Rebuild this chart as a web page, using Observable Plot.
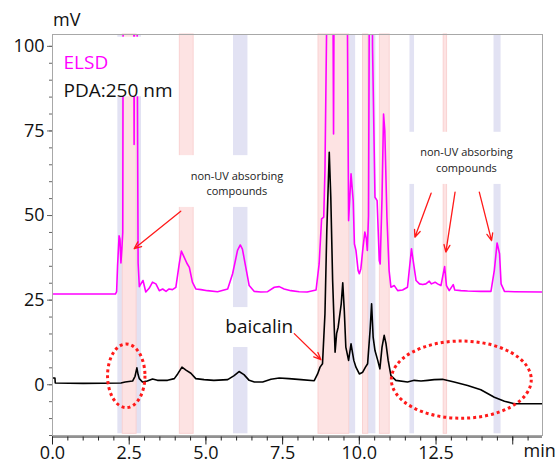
<!DOCTYPE html>
<html><head><meta charset="utf-8">
<script src="https://cdn.jsdelivr.net/npm/d3@7"></script>
<script src="https://cdn.jsdelivr.net/npm/@observablehq/plot@0.6"></script>
<style>body{margin:0;background:#fff} #chart svg{font-family:"Open Sans",sans-serif;}</style>
</head><body><div id="chart"></div>
<script>
// ELSD trace (min, mV) — peaks beyond 103 are off-scale in the original
const elsdTime = [0.00,2.05,2.09,2.12,2.17,2.20,2.23,2.26,2.29,2.31,2.60,2.63,2.66,2.69,2.71,2.79,2.83,2.86,2.95,3.04,3.15,3.26,3.37,3.48,3.59,3.70,3.80,3.91,4.02,4.13,4.20,4.29,4.38,4.46,4.56,4.67,4.84,5.05,5.38,5.71,5.87,6.03,6.12,6.19,6.30,6.41,6.57,6.79,7.01,7.23,7.39,7.55,7.77,8.04,8.30,8.59,8.69,8.77,8.84,8.88,8.94,8.97,9.10,9.16,9.21,9.55,9.65,9.73,9.80,9.84,9.89,9.96,10.00,10.05,10.12,10.18,10.23,10.26,10.30,10.36,10.40,10.43,10.51,10.58,10.65,10.68,10.74,10.79,10.83,10.90,10.97,11.03,11.14,11.25,11.41,11.57,11.70,11.77,11.85,11.96,12.07,12.17,12.28,12.35,12.47,12.55,12.66,12.78,12.84,12.93,13.06,13.11,13.31,13.53,13.96,14.29,14.40,14.49,14.57,14.62,14.73,15.06,15.97];
const elsdMV   = [26.8,26.8,27.5,35,44,43,36,40,45,150,200,200,71,200,220,36,29,29.5,30.8,27.4,28.5,30.3,29.8,27.8,28.3,27.6,28.3,28.1,28.8,35.7,39.5,37.7,35.9,34.7,30.3,28.3,28.1,27.8,27.5,28.3,32.8,39.7,41.3,40.1,34.7,29.3,27.6,27.4,27.5,28.8,29.0,28.3,27.8,27.5,27.4,28.0,35.7,49.0,49.5,63.3,110,200,200,74.1,200,200,48.5,62.3,54.4,41.6,39.7,33.8,32.8,34.3,40.6,45.1,43.1,39.7,50,200,200,100,55.4,54.4,36.7,35.7,55.4,80.0,75.1,49.5,33.8,28.8,29.3,27.8,28.0,28.8,40.2,35.7,30.8,29.8,29.6,29.8,30.6,29.8,30.3,29.8,29.3,34.9,29.3,27.8,29.6,28.0,27.8,27.7,27.6,27.6,33.8,41.9,38.7,29.8,27.6,27.5,27.4];
// PDA 250 nm trace (min, mV)
const pdaTime = [0.00,0.08,0.09,1.00,2.23,2.37,2.61,2.69,2.75,2.79,2.83,2.93,3.09,3.26,3.42,3.75,3.97,4.08,4.22,4.35,4.51,4.67,4.94,5.26,5.71,5.92,6.08,6.24,6.41,6.58,6.85,7.12,7.39,7.70,8.10,8.53,8.64,8.72,8.80,8.88,8.94,9.02,9.07,9.13,9.21,9.26,9.31,9.41,9.46,9.51,9.56,9.65,9.73,9.82,9.89,10.00,10.11,10.20,10.27,10.35,10.40,10.45,10.51,10.60,10.67,10.74,10.81,10.87,10.94,11.03,11.19,11.57,11.79,12.01,12.23,12.44,12.71,13.09,13.53,13.96,14.40,14.73,15.05,15.97];
const pdaMV   = [2.0,2.0,0.5,0.4,0.5,0.8,1.1,2.5,5.0,3.0,1.8,0.8,1.1,1.7,1.3,1.3,1.8,3.2,5.2,4.3,3.4,1.8,1.5,1.3,1.5,2.7,3.9,3.0,1.3,0.8,0.8,1.6,2.0,1.8,1.5,1.2,3.2,5.2,6.2,21,45.6,68.7,55.4,30.8,9.6,15.1,17.0,23.9,30.1,21.9,11.1,7.2,12.1,7.2,5.2,3.2,3.7,5.2,6.2,16.0,23.9,14.1,10.1,7.2,4.7,11.1,14.6,12.1,7.2,2.7,1.3,0.8,1.3,1.1,1.3,1.5,1.6,0.8,-0.2,-1.5,-3.7,-4.9,-5.6,-5.6];
// fraction windows (min)
const pinkStart = [2.29,4.15,8.67,10.12,10.67,12.75];
const pinkEnd   = [2.74,4.60,9.67,10.29,10.99,12.86];
const blueStart = [2.13,5.90,9.67,10.29,11.65,14.39];
const blueEnd   = [2.90,6.37,9.88,10.54,11.80,14.62];
// ticks
const xMajorTicks = [0,2.5,5,7.5,10,12.5,15];
const xTickLabels = ["0.0","2.5","5.0","7.5","10.0","12.5",""];
const yMajorTicks = [0,25,50,75,100];
const yTickLabels = ["0","25","50","75","100"];

const elsd = elsdTime.map((t,i)=>({t, v: elsdMV[i]}));
const pda = pdaTime.map((t,i)=>({t, v: pdaMV[i]}));
const pink = pinkStart.map((a,i)=>({a, b: pinkEnd[i]}));
const blue = blueStart.map((a,i)=>({a, b: blueEnd[i]}));

// annotation layout (data units)
const whiteBoxes = [
  {x1:0.02, x2:4.0, y1:85.1, y2:102.7},
  {x1:4.0, x2:7.8, y1:52.4, y2:67.7},
  {x1:11.5, x2:15.2, y1:59.2, y2:74.6},
  {x1:5.0, x2:8.3, y1:11.0, y2:22.8}
];
const notes = [
  {x:6.01, y:59.7, text:"non-UV absorbing\ncompounds"},
  {x:13.49, y:66.7, text:"non-UV absorbing\ncompounds"}
];
const arrows = [
  {x1:4.18, y1:51.3, x2:2.66, y2:40.2},
  {x1:12.34, y1:56.6, x2:11.81, y2:43.6},
  {x1:13.12, y1:56.9, x2:12.82, y2:39.2},
  {x1:13.91, y1:56.9, x2:14.31, y2:42.6},
  {x1:7.88, y1:15.1, x2:8.75, y2:7.4}
];
const ellipses = [
  {cx:2.42, cy:2.5, rx:0.61, ry:9.4},
  {cx:13.34, cy:1.36, rx:2.28, ry:11.4}
];

function ellipseMark(index, scales) {
  const g = d3.create("svg:g");
  for (const e of ellipses) {
    const cx = scales.x(e.cx), cy = scales.y(e.cy);
    const rx = Math.abs(scales.x(e.cx + e.rx) - cx);
    const ry = Math.abs(scales.y(e.cy + e.ry) - cy);
    g.append("ellipse").attr("cx", cx).attr("cy", cy).attr("rx", rx).attr("ry", ry)
      .attr("fill", "none").attr("stroke", "#ff1a1a").attr("stroke-width", 3)
      .attr("stroke-dasharray", "3 3");
  }
  return g.node();
}
function unitLabel(index, scales, values, dimensions) {
  const g = d3.create("svg:g");
  g.append("text").attr("x", dimensions.marginLeft + 1).attr("y", dimensions.marginTop - 8)
    .attr("text-anchor", "start").attr("font-size", 18).attr("fill", "#111").text("mV");
  return g.node();
}

const chart = Plot.plot({
  width: 555, height: 465,
  marginLeft: 52, marginRight: 13, marginTop: 34, marginBottom: 30,
  style: {fontFamily: "Open Sans", fontSize: "18px", background: "#fff"},
  x: {domain: [0, 15.97]},
  y: {domain: [-15, 103.5]},
  marks: [
    Plot.rectY(blue, {x1: "a", x2: "b", y1: -14.5, y2: 103.5, fill: "#e2e2f3"}),
    Plot.rectY(pink, {x1: "a", x2: "b", y1: -14.5, y2: 103.5, fill: "#fde3e3", stroke: "#f9d2d2", strokeWidth: 1}),
    Plot.line(elsd, {x: "t", y: "v", stroke: "#ff00ff", strokeWidth: 1.6, clip: true}),
    Plot.line(pda, {x: "t", y: "v", stroke: "#000", strokeWidth: 1.6, clip: true}),
    Plot.rect(whiteBoxes, {x1: "x1", x2: "x2", y1: "y1", y2: "y2", fill: "#fff"}),
    Plot.frame({stroke: "#a8a8a8"}),
    Plot.ruleY([-15], {stroke: "#222", strokeWidth: 1, dy: 1.5}),
    Plot.axisX(d3.range(0, 16, 0.5), {tickSize: 4, dy: 1.5, tickFormat: () => "", stroke: "#222", label: null}),
    Plot.axisX(xMajorTicks, {tickSize: 8, dy: 1.5, tickPadding: 1, fontSize: 18, stroke: "#222", fill: "#111",
      tickFormat: d => xTickLabels[xMajorTicks.indexOf(d)], label: null}),
    Plot.axisY(d3.range(-15, 101, 5), {tickSize: 3, tickFormat: () => "", stroke: "#666", label: null}),
    Plot.axisY(yMajorTicks, {tickSize: 5, tickPadding: 3, fontSize: 18, stroke: "#666", fill: "#111",
      tickFormat: d => yTickLabels[yMajorTicks.indexOf(d)], label: null}),
    unitLabel,
    Plot.text(["min"], {frameAnchor: "bottom-right", textAnchor: "start", dx: -19, dy: 21, fontSize: 18, fill: "#111"}),
    Plot.text(["ELSD"], {frameAnchor: "top-left", textAnchor: "start", dx: 11, dy: 21, fontSize: 19, fill: "#ff00ff"}),
    Plot.text(["PDA:250 nm"], {frameAnchor: "top-left", textAnchor: "start", dx: 11, dy: 49, fontSize: 19, fill: "#111"}),
    Plot.text(notes, {x: "x", y: "y", text: "text", fontSize: 11, lineHeight: 1.4, fill: "#222"}),
    Plot.text(["baicalin"], {x: 6.74, y: 17.0, fontSize: 19, fill: "#111"}),
    Plot.arrow(arrows, {x1: "x1", y1: "y1", x2: "x2", y2: "y2", stroke: "#ff1a1a", strokeWidth: 1.3, headLength: 9, headAngle: 45}),
    ellipseMark
  ]
});
document.getElementById("chart").appendChild(chart);
</script>
</body></html>
